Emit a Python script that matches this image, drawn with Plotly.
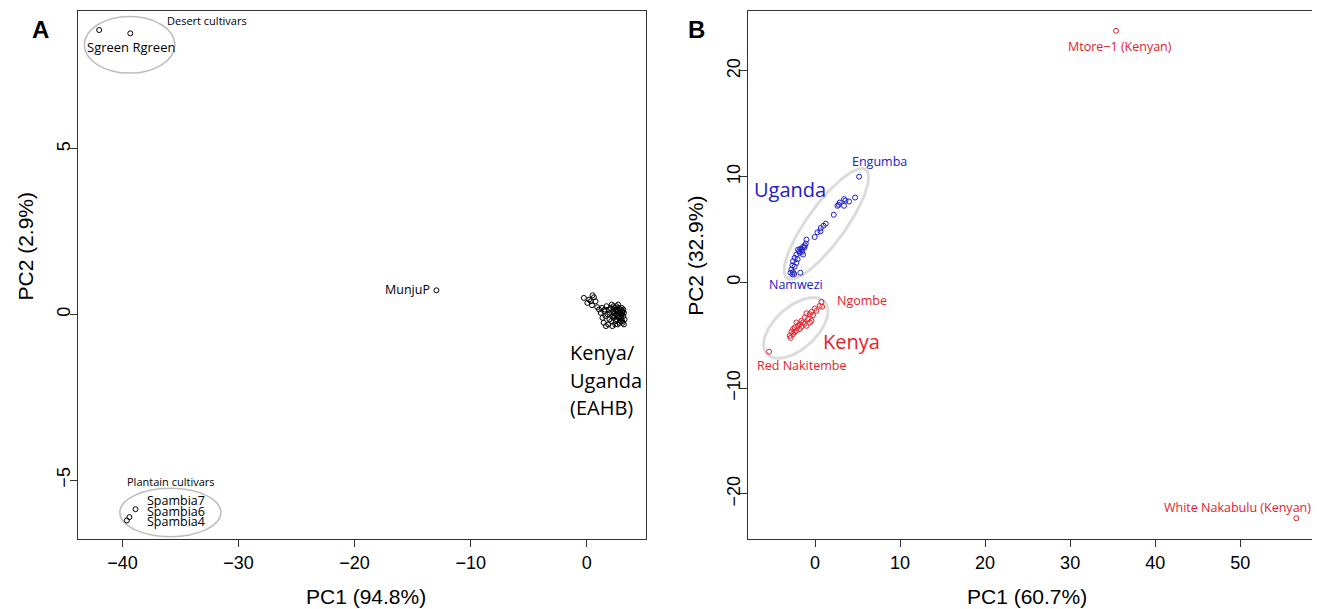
import numpy as np
import plotly.graph_objects as go

# The page has an 8px body margin; reference pixel positions are converted with OFF.
OFF = 8
W, H = 1320 - OFF, 609 - OFF

# ---------------- Panel A data ----------------
desert_x = [-42.0, -39.32]
desert_y = [8.59, 8.49]
munju_x = [-12.95]
munju_y = [0.73]
plantain_x = [-38.87, -39.40, -39.62]
plantain_y = [-5.88, -6.12, -6.22]
eahb_x = [-0.25, 0.05, 0.20, 0.35, 0.50, 0.62, 0.45, 0.75, 0.90, 1.05, 1.20, 1.35, 1.30, 1.50,
          1.45, 1.60, 1.70, 1.85, 1.90, 2.00, 2.10, 2.15, 2.25, 2.30, 2.40, 2.45, 2.50, 2.55,
          2.60, 2.65, 2.70, 2.75, 2.80, 2.85, 2.90, 2.95, 3.00, 3.05, 3.10, 3.15, 3.20, 3.25,
          2.20, 2.35, 2.50, 2.60, 2.70, 2.80, 2.90, 3.00, 3.10, 2.40, 2.55, 2.75, 2.95, 3.15,
          1.95, 2.05, 2.65, 2.85, 3.05, 1.65, 1.80, 2.20, 1.55, 2.30, 3.20, 2.45]
eahb_y = [0.50, 0.35, 0.45, 0.40, 0.58, 0.52, 0.28, 0.40, 0.22, 0.15, 0.05, -0.10, 0.20, 0.10,
          -0.25, -0.05, 0.25, -0.30, 0.15, 0.05, -0.20, 0.30, 0.10, -0.10, 0.20, -0.30, 0.00, 0.25,
          -0.15, 0.10, -0.05, 0.20, -0.25, 0.05, 0.15, -0.10, 0.00, -0.20, 0.10, -0.05, 0.05, -0.15,
          -0.05, 0.05, -0.20, 0.15, 0.30, 0.10, -0.20, 0.20, -0.25, -0.05, 0.10, -0.10, 0.00, 0.15,
          -0.15, 0.20, -0.30, -0.05, 0.05, -0.35, 0.00, -0.35, 0.15, 0.25, -0.30, 0.15]

# ---------------- Panel B data ----------------
uganda_x = [5.18, 4.71, 4.00, 3.41, 3.58, 2.90, 2.79, 3.41, 2.63, 2.20, 1.26, 0.99, 0.67, 0.63,
            0.28, -0.04, -1.01, -1.09, -1.41, -1.72, -2.00, -1.55, -1.90, -1.25, -1.41, -1.80,
            -2.19, -2.39, -2.05, -2.59, -2.19, -2.66, -2.40, -2.78, -2.59, -2.89, -1.72, -2.66,
            -2.45, -1.50, -1.20]
uganda_y = [10.0, 8.03, 7.66, 7.88, 7.75, 7.56, 7.35, 7.25, 7.25, 6.40, 5.56, 5.37, 5.15, 4.84,
            4.74, 4.30, 4.05, 3.68, 3.37, 3.18, 3.11, 3.10, 2.95, 3.30, 2.64, 2.80, 2.64, 2.33,
            2.20, 2.01, 1.86, 1.61, 1.50, 1.23, 0.98, 0.92, 0.92, 0.76, 0.80, 2.90, 3.50]
kenya_x = [0.75, 0.84, 0.55, -0.04, 0.16, -0.42, -0.62, -0.24, -1.01, -1.21, -0.82, -1.60, -1.80,
           -1.41, -2.00, -2.19, -2.39, -2.59, -2.78, -2.98, -2.59, -2.19, -1.80, -1.01, -0.62,
           -0.42, -2.88, -1.60, -1.20, -2.40, -5.41, 35.4, 56.6]
kenya_y = [-1.84, -2.30, -2.22, -2.47, -2.69, -2.78, -3.00, -3.09, -2.91, -3.31, -3.47, -3.63,
           -3.94, -3.78, -4.10, -3.78, -4.25, -4.41, -4.66, -5.04, -4.88, -4.57, -4.41, -4.10,
           -3.78, -3.63, -5.24, -4.20, -3.90, -4.70, -6.55, 23.8, -22.3]

# axes geometry
A_XR = [-43.85, 5.1]
A_YR = [-6.78, 9.18]
B_XR = [-7.85, 59.15]
B_YR = [-24.26, 25.72]


def px(X):
    return (X - OFF) / W


def py(Y):
    return 1 - (Y - OFF) / H


A_DOM_X = [px(77.7), px(646)]
B_DOM_X = [px(748.3), px(1318)]
DOM_Y = [py(539), py(10.5)]

RED = "#e4222c"
BLUE = "#2020c8"
LABEL_FONT = "Open Sans, Noto Sans, sans-serif"
AXIS_FONT = "Liberation Sans, Arial, sans-serif"

fig = go.Figure()

# Tilted ellipses for panel B (screen-space parameters converted to data)
kx = (B_DOM_X[1] - B_DOM_X[0]) * W / (B_XR[1] - B_XR[0])
ky = (DOM_Y[1] - DOM_Y[0]) * H / (B_YR[1] - B_YR[0])
ellipses_b = [  # center x, center y (data), semi-major px, semi-minor px, angle deg
    (1.33, 5.54, 67, 19, 54),
    (-2.27, -4.30, 39, 21, 42),
]
t = np.linspace(0, 2 * np.pi, 200)
for cx, cy, a, b, ang in ellipses_b:
    th = np.deg2rad(ang)
    ex = a * np.cos(t) * np.cos(th) - b * np.sin(t) * np.sin(th)
    ey = a * np.cos(t) * np.sin(th) + b * np.sin(t) * np.cos(th)
    fig.add_trace(go.Scatter(x=cx + ex / kx, y=cy + ey / ky, mode="lines",
                             line=dict(color="#dcdcdc", width=3), xaxis="x2", yaxis="y2",
                             hoverinfo="skip", showlegend=False))

mk = dict(symbol="circle-open", size=5, line=dict(width=1))
fig.add_trace(go.Scatter(x=desert_x + munju_x + plantain_x + eahb_x,
                         y=desert_y + munju_y + plantain_y + eahb_y,
                         mode="markers", marker=dict(color="black", **mk),
                         xaxis="x", yaxis="y", showlegend=False))
fig.add_trace(go.Scatter(x=uganda_x, y=uganda_y, mode="markers",
                         marker=dict(color=BLUE, **mk), xaxis="x2", yaxis="y2", showlegend=False))
fig.add_trace(go.Scatter(x=kenya_x, y=kenya_y, mode="markers",
                         marker=dict(color=RED, **mk), xaxis="x2", yaxis="y2", showlegend=False))

# Ellipses panel A
fig.add_shape(type="circle", xref="x", yref="y", x0=-43.28, x1=-35.48, y0=7.29, y1=9.0,
              line=dict(color="#bdbdbd", width=1.5), layer="below")
fig.add_shape(type="circle", xref="x", yref="y", x0=-40.22, x1=-31.52, y0=-6.71, y1=-5.25,
              line=dict(color="#bdbdbd", width=1.5), layer="below")


def lab(text, x, y, xr, yr, size, color="black", xanchor="center", family=LABEL_FONT):
    fig.add_annotation(text=text, x=x, y=y, xref=xr, yref=yr, showarrow=False,
                       xanchor=xanchor, yanchor="middle",
                       font=dict(family=family, size=size, color=color))


# Panel A labels
lab("Desert cultivars", -32.74, 8.88, "x", "y", 11)
lab("Sgreen Rgreen", -39.29, 8.09, "x", "y", 13)
lab("MunjuP", -15.48, 0.74, "x", "y", 12.5)
lab("Plantain cultivars", -35.83, -5.03, "x", "y", 11)
lab("Spambia7", -38.06, -5.63, "x", "y", 12.5, xanchor="left")
lab("Spambia6", -38.06, -5.94, "x", "y", 12.5, xanchor="left")
lab("Spambia4", -38.06, -6.25, "x", "y", 12.5, xanchor="left")
lab("Kenya/", -1.6, -1.16, "x", "y", 20, xanchor="left")
lab("Uganda", -1.6, -1.98, "x", "y", 20, xanchor="left")
lab("(EAHB)", -1.6, -2.80, "x", "y", 20, xanchor="left")

# Panel B labels
lab("Mtore\u22121 (Kenyan)", 35.88, 22.27, "x2", "y2", 12.5, RED)
lab("White Nakabulu (Kenyan)", 49.7, -21.32, "x2", "y2", 12.5, RED)
lab("Engumba", 7.58, 11.43, "x2", "y2", 12.5, BLUE)
lab("Uganda", -2.94, 8.78, "x2", "y2", 20, BLUE)
lab("Namwezi", -2.25, -0.21, "x2", "y2", 12.5, BLUE)
lab("Ngombe", 5.49, -1.71, "x2", "y2", 12.5, RED)
lab("Kenya", 4.25, -5.54, "x2", "y2", 20, RED)
lab("Red Nakitembe", -1.6, -7.83, "x2", "y2", 12.5, RED)


def plab(text, x, y, size=24, angle=0, bold=False, family=AXIS_FONT):
    fig.add_annotation(text=("<b>%s</b>" % text) if bold else text,
                       x=px(x), y=py(y), xref="paper", yref="paper", showarrow=False,
                       xanchor="center", yanchor="middle", textangle=angle,
                       font=dict(family=family, size=size, color="black"))


plab("A", 40, 30, 24, bold=True)
plab("B", 696.5, 30, 24, bold=True)
plab("PC1 (94.8%)", 366, 596, 21)
plab("PC1 (60.7%)", 1027, 596, 21)
plab("PC2 (2.9%)", 24.5, 246, 21, angle=-90)
plab("PC2 (32.9%)", 694.8, 256, 21, angle=-90)

axis_common = dict(showgrid=False, zeroline=False, showline=True, linecolor="#333333",
                   linewidth=1, mirror=True, ticks="outside", ticklen=7, tickwidth=1,
                   tickcolor="#333333",
                   tickfont=dict(family=AXIS_FONT, size=18, color="black"))

fig.update_layout(
    width=W, height=H, margin=dict(l=0, r=0, t=0, b=0),
    paper_bgcolor="white", plot_bgcolor="white", showlegend=False,
    xaxis=dict(domain=A_DOM_X, range=A_XR, tickvals=[-40, -30, -20, -10, 0], anchor="y",
               **axis_common),
    yaxis=dict(domain=DOM_Y, range=A_YR, tickvals=[-5, 0, 5], tickangle=-90, anchor="x",
               ticklabelstandoff=-7, **axis_common),
    xaxis2=dict(domain=B_DOM_X, range=B_XR, tickvals=[0, 10, 20, 30, 40, 50], anchor="y2",
                **axis_common),
    yaxis2=dict(domain=DOM_Y, range=B_YR, tickvals=[-20, -10, 0, 10, 20], tickangle=-90,
                anchor="x2", ticklabelstandoff=-7, **axis_common),
)

fig.write_html("out.html")
